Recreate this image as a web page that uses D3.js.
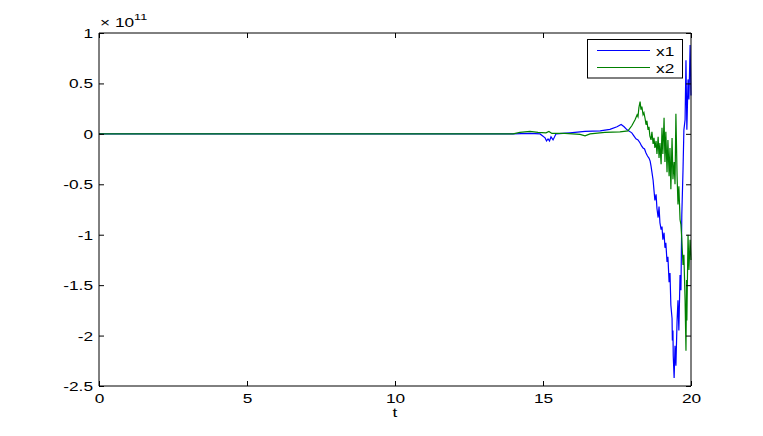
<!DOCTYPE html>
<html><head><meta charset="utf-8">
<script src="https://cdn.jsdelivr.net/npm/d3@7"></script>
<style>body{margin:0;background:#fff}svg{display:block}text{font-family:"Liberation Sans",Arial,Helvetica,sans-serif}</style>
</head><body>
<svg id="c" width="763" height="436"></svg>
<script>
// values in units of 1e11
const x1T = [0,13.99,14.56,14.9,15.07,15.12,15.17,15.22,15.27,15.34,15.44,15.91,16.42,16.93,17.26,17.5,17.64,17.74,17.84,18.0,18.07,18.14,18.21,18.28,18.33,18.38,18.43,18.48,18.53,18.58,18.62,18.65,18.68,18.72,18.75,18.78,18.82,18.85,18.89,18.92,18.95,18.99,19.02,19.05,19.09,19.12,19.15,19.19,19.22,19.26,19.29,19.32,19.36,19.37,19.39,19.4,19.43,19.46,19.49,19.53,19.56,19.59,19.63,19.66,19.69,19.73,19.76,19.8,19.83,19.86,19.9,19.93,19.97,20];
const x1V = [0,0,0.004,-0.001,-0.04,-0.07,-0.05,-0.07,-0.03,-0.06,0,0.01,0.024,0.03,0.045,0.07,0.093,0.07,0.04,0.01,-0.02,-0.05,-0.06,-0.09,-0.12,-0.14,-0.15,-0.19,-0.22,-0.24,-0.27,-0.32,-0.38,-0.46,-0.56,-0.66,-0.6,-0.74,-0.83,-0.72,-0.88,-0.95,-0.92,-1.05,-0.98,-1.13,-1.08,-1.27,-1.22,-1.47,-1.38,-1.7,-1.83,-2.05,-1.95,-2.2,-2.42,-2.1,-2.3,-1.85,-1.65,-1.95,-1.4,-1.55,-0.8,-0.36,0.04,0.14,0.73,0.04,0.54,0.34,0.88,0.38];
const x2T = [0,13.99,14.22,14.56,14.83,15.1,15.2,15.3,15.74,16.25,16.42,16.59,17.09,17.6,17.87,18.0,18.11,18.18,18.21,18.24,18.28,18.31,18.34,18.38,18.41,18.45,18.48,18.51,18.55,18.58,18.61,18.65,18.68,18.72,18.75,18.78,18.82,18.85,18.89,18.92,18.95,18.99,19.02,19.05,19.09,19.12,19.15,19.19,19.22,19.26,19.29,19.32,19.36,19.39,19.43,19.46,19.49,19.53,19.56,19.59,19.63,19.66,19.69,19.73,19.76,19.8,19.83,19.85,19.86,19.9,19.93,19.97,20];
const x2V = [0,0,0.014,0.024,0.014,0.01,0.024,0.004,0.004,-0.006,-0.02,0,0.014,0.02,0.03,0.08,0.14,0.19,0.17,0.26,0.32,0.24,0.27,0.19,0.21,0.15,0.09,0.13,0.04,0.07,-0.02,-0.06,0.02,-0.1,-0.04,-0.14,-0.07,-0.2,-0.03,-0.24,-0.09,-0.3,0.06,-0.2,0.16,-0.28,0.02,-0.38,-0.06,-0.42,-0.14,-0.55,-0.04,-0.45,-0.28,-0.5,0.2,-0.42,-0.7,-0.52,-0.85,-0.9,-1.05,-1.3,-1.2,-1.65,-2.15,-1.45,-1.85,-1.0,-1.35,-1.05,-1.25];
const xTicks = [0,5,10,15,20];
const yTicks = [1,0.5,0,-0.5,-1,-1.5,-2,-2.5];
const seriesNames = ["x1","x2"];
const seriesColors = ["#0000ff","#008000"];

const svg = d3.select("#c");
const L=99, R=691, T=33, B=386;
const FS = 13, SX = 1.33;
const x = d3.scaleLinear().domain([0,20]).range([L,R]);
const y = d3.scaleLinear().domain([-2.5,1]).range([B,T]);

const g = svg.append("g");
const line = d3.line().x(d=>x(d[0])).y(d=>y(d[1]));
const s1 = x1T.map((t,i)=>[t,x1V[i]]);
const s2 = x2T.map((t,i)=>[t,x2V[i]]);
g.append("path").datum(s1).attr("d",line).attr("fill","none").attr("stroke",seriesColors[0]).attr("stroke-width",1.2);
g.append("path").datum(s2).attr("d",line).attr("fill","none").attr("stroke",seriesColors[1]).attr("stroke-width",1.2);

// horizontally stretched text (source figure is wider than tall)
function stretch(sel){
  sel.each(function(){
    const t = d3.select(this);
    const tx = +t.attr("x")||0, ty = +t.attr("y")||0;
    t.attr("x",0).attr("y",0).attr("transform",`translate(${tx},${ty}) scale(${SX},1)`);
  });
}

const fmt = d=>String(d);
const axB = d3.axisBottom(x).tickValues(xTicks).tickSize(-5).tickPadding(0).tickFormat(fmt);
const axT = d3.axisTop(x).tickValues(xTicks).tickSize(-5).tickFormat("");
const axL = d3.axisLeft(y).tickValues(yTicks).tickSize(-5).tickPadding(0).tickFormat(fmt);
const axR = d3.axisRight(y).tickValues(yTicks).tickSize(-5).tickFormat("");
function style(sel){sel.attr("font-size",FS);sel.select(".domain").attr("stroke","#000");sel.selectAll(".tick line").attr("stroke","#000");sel.selectAll("text").attr("font-size",FS).attr("fill","#000").attr("font-family","Liberation Sans, Arial, sans-serif");}
const gb = svg.append("g").attr("transform",`translate(0,${B})`).call(axB).call(style).call(s=>s.select(".domain").attr("d",`M${L},0H${R}`));
gb.selectAll(".tick text").attr("x",0).attr("y",17).attr("dy",null).call(stretch);
svg.append("g").attr("transform",`translate(0,${T})`).call(axT).call(style).call(s=>s.select(".domain").attr("d",`M${L},0H${R}`));
const gl = svg.append("g").attr("transform",`translate(${L},0)`).call(axL).call(style).call(s=>s.select(".domain").attr("d",`M0,${T}V${B}`));
gl.selectAll(".tick text").attr("x",-6).attr("y",0).attr("dy","0.35em").call(stretch);
svg.append("g").attr("transform",`translate(${R},0)`).call(axR).call(style).call(s=>s.select(".domain").attr("d",`M0,${T}V${B}`));

// exponent
const ex = svg.append("text").attr("x",100).attr("y",27).attr("font-size",FS).attr("fill","#000");
ex.append("tspan").text("\u00d7 10");
ex.append("tspan").attr("font-size",9.5).attr("dy",-7).text("11");
ex.call(stretch);

// x label
svg.append("text").attr("x",(L+R)/2).attr("y",417).attr("text-anchor","middle").attr("font-size",FS).text("t").call(stretch);

// legend
const lg = svg.append("g");
lg.append("rect").attr("x",587.5).attr("y",39.5).attr("width",95).attr("height",38.5).attr("fill","#fff").attr("stroke","#000");
seriesNames.forEach((n,i)=>{
  const yy = 50.5 + i*17;
  lg.append("line").attr("x1",597).attr("x2",650).attr("y1",yy).attr("y2",yy).attr("stroke",seriesColors[i]).attr("stroke-width",1);
  lg.append("text").attr("x",656).attr("y",yy+5).attr("font-size",FS).text(n).call(stretch);
});
</script>
</body></html>
